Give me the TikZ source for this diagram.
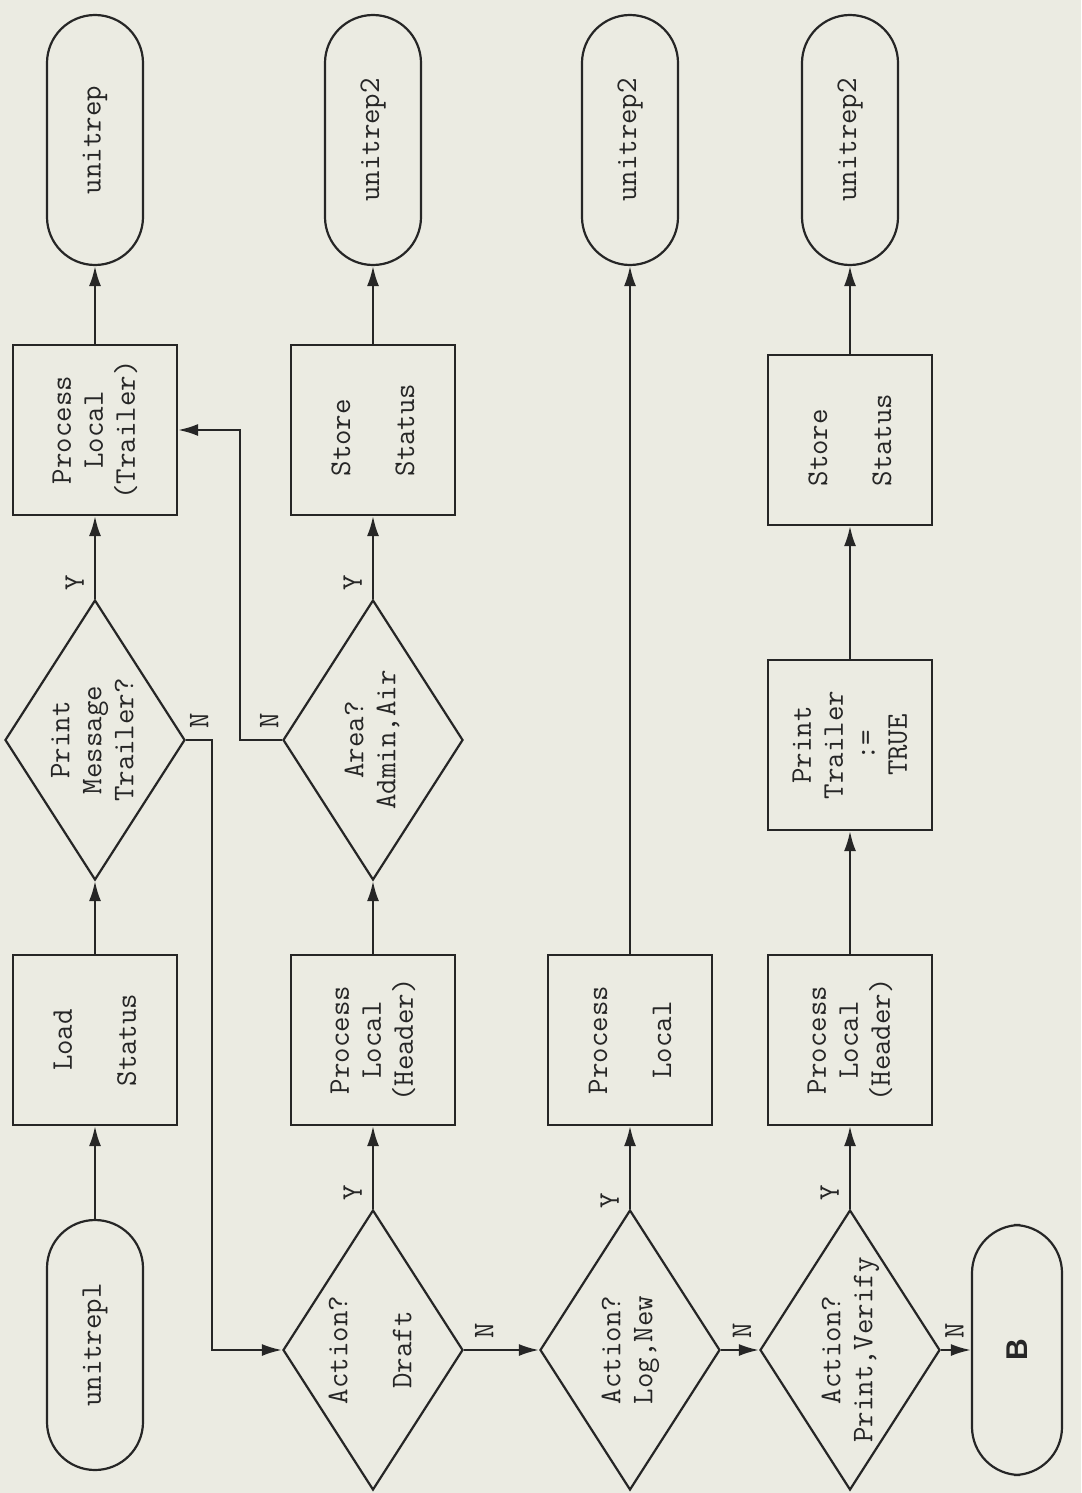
\documentclass[tikz,border=0pt]{standalone}
\usepackage{fontspec}
\setsansfont{Liberation Sans}
\usetikzlibrary{shapes.geometric,arrows.meta}

\definecolor{paper}{RGB}{235,235,226}
\definecolor{ink}{RGB}{38,38,38}

% text of a decision box, kept from growing the diamond
\newcommand{\dtxt}[1]{\makebox[0pt]{\begin{tabular}{@{}c@{}}#1\end{tabular}}}

\begin{document}
\begin{tikzpicture}[
	x=0.5pt, y=-0.5pt,
	base/.style={
		draw=ink,
		line width=1.1pt,
		rotate=90,
		align=center,
		text=ink,
		font=\fontsize{15}{16}\ttfamily
	},
	terminal/.style={
		base,
		rectangle,
		rounded corners=24pt,
		minimum width=125pt,
		minimum height=48pt
	},
	process/.style={
		base,
		rectangle,
		minimum width=85pt,
		minimum height=82pt
	},
	decision/.style={
		base,
		diamond,
		inner sep=0pt,
		minimum width=140pt,
		minimum height=90pt
	},
	flow/.style={
		draw=ink,
		line width=1.1pt,
		-{Latex[length=10pt,width=6pt]}
	},
	ylab/.style={
		rotate=90,
		anchor=south,
		inner sep=5pt,
		text=ink,
		font=\fontsize{15}{16}\ttfamily
	},
	nlab/.style={
		rotate=90,
		anchor=west,
		inner sep=5pt,
		text=ink,
		font=\fontsize{15}{16}\ttfamily
	},
]

\fill[paper] (0,0) rectangle (1081,1493);
\useasboundingbox (0,0) rectangle (1081,1493);

% first column
\node[terminal] (rep1) at (95, 1345) {unitrepl};
\node[process] (load) at (95, 1040) {Load\\[16pt]Status};
\node[decision] (msg) at (95, 740) {\dtxt{Print\\Message\\Trailer?}};
\node[process] (trailer) at (95, 430) {Process\\Local\\(Trailer)};
\node[terminal] (rep) at (95, 140) {unitrep};

% second column
\node[decision] (draft) at (373, 1350) {\dtxt{Action?\\[16pt]Draft}};
\node[process] (hdr1) at (373, 1040) {Process\\Local\\(Header)};
\node[decision] (area) at (373, 740) {\dtxt{Area?\\Admin,Air}};
\node[process, align=left] (store1) at (373, 430) {Store\\[16pt]Status};
\node[terminal] (rep2a) at (373, 140) {unitrep2};

% third column
\node[decision] (lognew) at (630, 1350) {\dtxt{Action?\\Log,New}};
\node[process] (plocal) at (630, 1040) {Process\\[16pt]Local};
\node[terminal] (rep2b) at (630, 140) {unitrep2};

% fourth column
\node[decision] (pv) at (850, 1350) {\dtxt{Action?\\Print,Verify}};
\node[process] (hdr2) at (850, 1040) {Process\\Local\\(Header)};
\node[process] (settrue) at (850, 745) {Print\\Trailer\\:=\\TRUE};
\node[process, align=left] (store2) at (850, 440) {Store\\[16pt]Status};
\node[terminal] (rep2c) at (850, 140) {unitrep2};

\node[terminal, minimum height=45pt] (bterm) at (1017, 1350) {\sffamily\bfseries B};

\draw[flow] (rep1.east) -- (load.west);
\draw[flow] (load.east) -- (msg.west);
\draw[flow] (msg.east) -- node[ylab, pos=0.2] {Y} (trailer.west);
\draw[flow] (trailer.east) -- (rep.west);
\draw[flow] (msg.south) -- node[nlab] {N} ++(26,0) |- (draft.north);

\draw[flow] (draft.east) -- node[ylab, pos=0.2] {Y} (hdr1.west);
\draw[flow] (hdr1.east) -- (area.west);
\draw[flow] (area.east) -- node[ylab, pos=0.2] {Y} (store1.west);
\draw[flow] (store1.east) -- (rep2a.west);
\draw[flow] (area.north) -- node[nlab, pos=0.3] {N} ++(-42,0) |- (trailer.south);
\draw[flow] (draft.south) -- node[nlab, pos=0.27] {N} (lognew.north);

\draw[flow] (lognew.east) -- node[ylab, pos=0.1] {Y} (plocal.west);
\draw[flow] (plocal.east) -- (rep2b.west);
\draw[flow] (lognew.south) -- node[nlab, pos=0.55] {N} (pv.north);

\draw[flow] (pv.east) -- node[ylab, pos=0.2] {Y} (hdr2.west);
\draw[flow] (hdr2.east) -- (settrue.west);
\draw[flow] (settrue.east) -- (store2.west);
\draw[flow] (store2.east) -- (rep2c.west);
\draw[flow] (pv.south) -- node[nlab, pos=0.45] {N} (bterm.north);

\end{tikzpicture}
\end{document}
